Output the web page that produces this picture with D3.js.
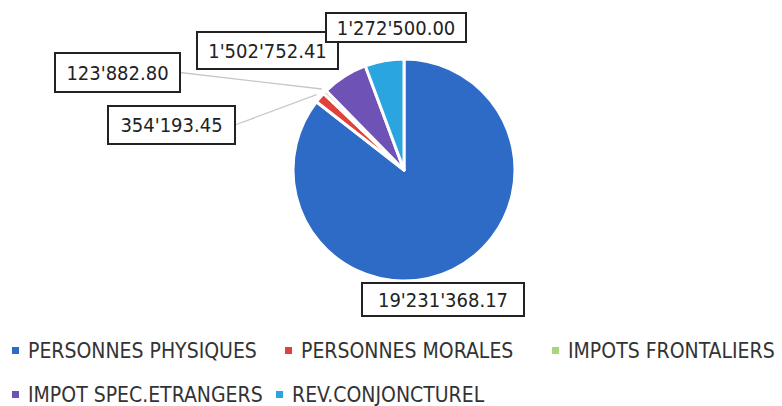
<!DOCTYPE html>
<html><head><meta charset="utf-8">
<script src="https://cdn.jsdelivr.net/npm/d3@7"></script>
<style>body{margin:0;background:#fff}svg{display:block}</style>
</head><body>
<svg id="c" width="782" height="406"></svg>
<script>
const categories = ["PERSONNES PHYSIQUES","PERSONNES MORALES","IMPOTS FRONTALIERS","IMPOT SPEC.ETRANGERS","REV.CONJONCTUREL"];
const values = [19231368.17, 354193.45, 123882.80, 1502752.41, 1272500.00];
const labels = ["19'231'368.17","354'193.45","123'882.80","1'502'752.41","1'272'500.00"];
const colors = ["#2D6BC7","#E0413A","#A8D67E","#6E52B6","#2BA5DF"];

const svg = d3.select("#c");
const cx = 404, cy = 170, R = 111;
const font = "'DejaVu Sans Condensed','Open Sans',sans-serif";

const pie = d3.pie().sort(null).value(d => d)(values);
const arc = d3.arc().innerRadius(0).outerRadius(R);
const g = svg.append("g").attr("transform", `translate(${cx},${cy})`);
g.selectAll("path").data(pie).join("path")
  .attr("d", arc).attr("fill", (d,i) => colors[i])
  .attr("stroke", "#fff").attr("stroke-width", 3).attr("stroke-linejoin","round");

const labelBoxes = [
  {i:0, x:362, y:283, w:162, h:33},
  {i:1, x:108, y:106, w:127, h:38},
  {i:2, x:55,  y:53,  w:125, h:39},
  {i:3, x:197, y:32,  w:141, h:37},
  {i:4, x:326, y:13,  w:140, h:29}
];
const outer = d3.arc().innerRadius(R*1.04).outerRadius(R*1.04);
[1,2].forEach(i => {
  const b = labelBoxes.find(o => o.i === i);
  const p = outer.centroid(pie[i]);
  svg.append("line")
    .attr("x1", b.x + b.w).attr("y1", b.y + b.h/2)
    .attr("x2", cx + p[0]).attr("y2", cy + p[1])
    .attr("stroke", "#c8c8c8").attr("stroke-width", 1.3);
});
labelBoxes.forEach(b => {
  const lg = svg.append("g");
  lg.append("rect").attr("x", b.x).attr("y", b.y).attr("width", b.w).attr("height", b.h)
    .attr("fill", "#fff").attr("stroke", "#222").attr("stroke-width", 2);
  lg.append("text").attr("x", b.x + b.w/2).attr("y", b.y + b.h/2 + 7)
    .attr("text-anchor", "middle").attr("font-family", font).attr("font-size", 20)
    .attr("fill", "#222").text(labels[b.i]);
});

const legendPos = [
  {x:12, y:354}, {x:285, y:354}, {x:552, y:354},
  {x:12, y:398}, {x:276, y:398}
];
categories.forEach((c, i) => {
  const p = legendPos[i];
  svg.append("rect").attr("x", p.x).attr("y", p.y - 7).attr("width", 7).attr("height", 7)
    .attr("fill", colors[i]);
  svg.append("text").attr("x", p.x + 16).attr("y", p.y + 4)
    .attr("font-family", font).attr("font-size", 21).attr("fill", "#333").text(c);
});
</script>
</body></html>
